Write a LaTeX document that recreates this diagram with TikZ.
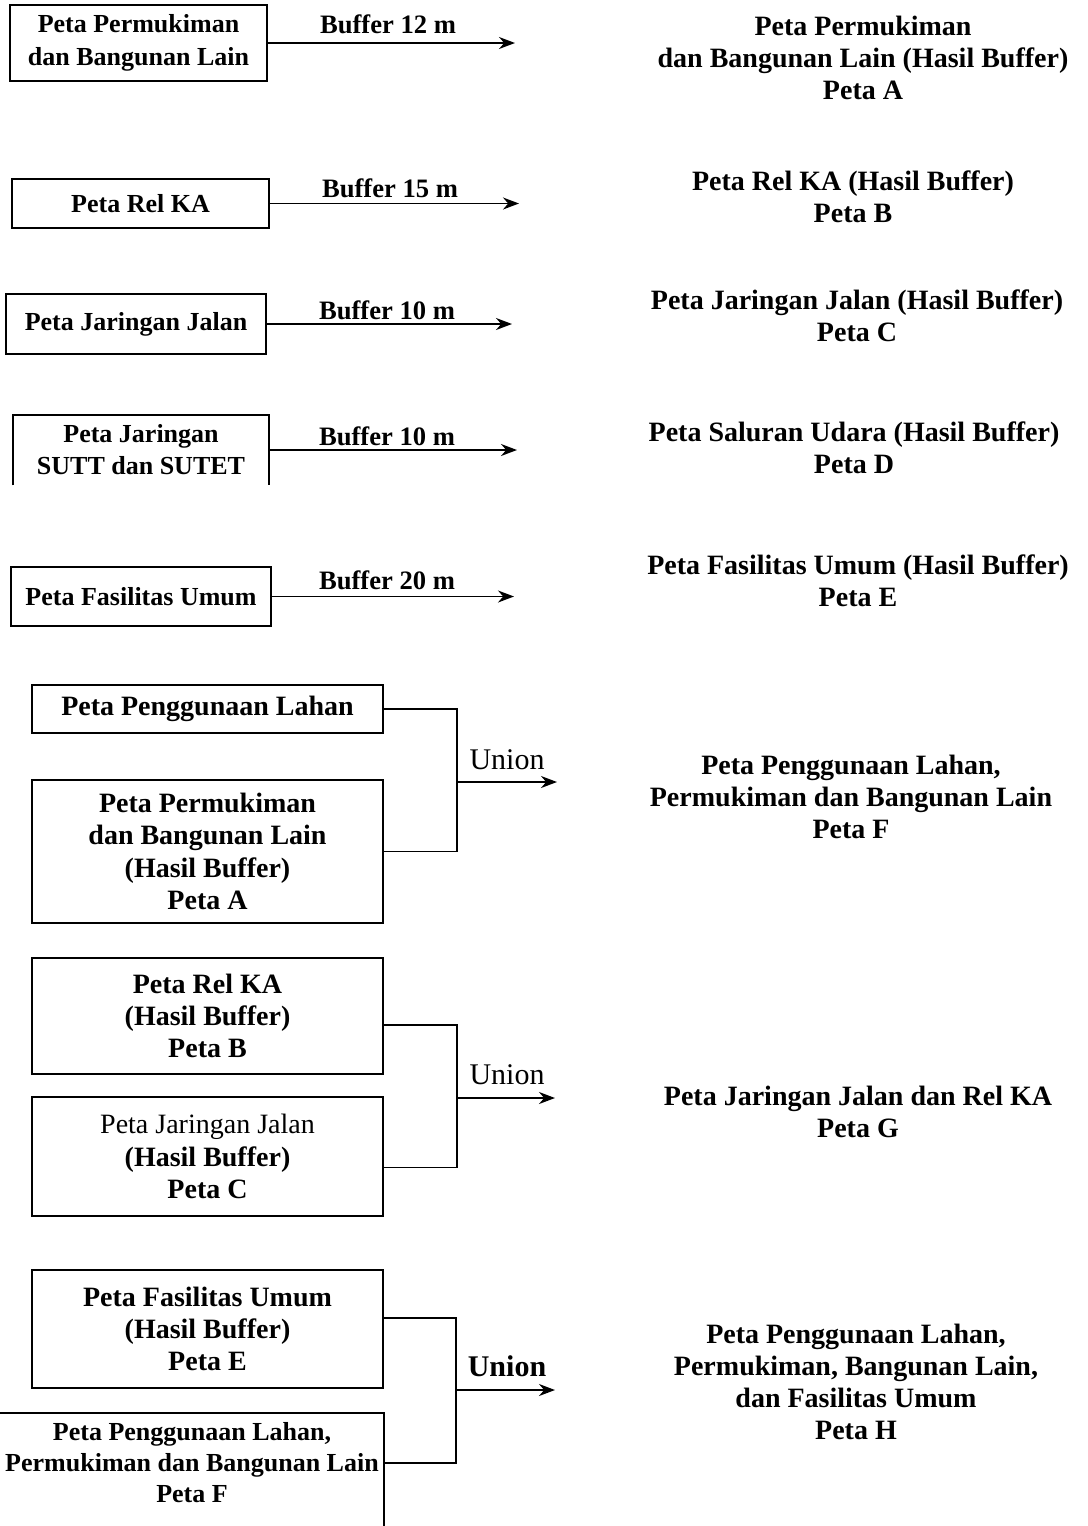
\documentclass[tikz,border=0pt]{standalone}
\usepackage{fontspec}
\setmainfont{Liberation Serif}
\usetikzlibrary{arrows.meta,calc}
\begin{document}
\begin{tikzpicture}[x=0.5pt,y=-0.5pt,
  bx/.style={draw,line width=1pt,inner sep=0pt,align=center,font=\fontsize{13}{16.5}\selectfont\bfseries},
  obx/.style={inner sep=0pt,align=center,font=\fontsize{13}{16}\selectfont\bfseries},
  ubx/.style={draw,line width=1pt,inner sep=0pt,align=center,minimum width=175.5pt,font=\fontsize{14}{16.2}\selectfont\bfseries},
  utx/.style={inner sep=0pt,align=center,font=\fontsize{13}{15.5}\selectfont\bfseries},
  res/.style={inner sep=0pt,align=center,font=\fontsize{14}{16}\selectfont\bfseries},
  lbl/.style={inner sep=0pt,font=\fontsize{13.3}{15}\selectfont\bfseries},
  ulbl/.style={inner sep=0pt,font=\fontsize{15}{16}\selectfont},
  ulblb/.style={inner sep=0pt,font=\fontsize{15}{16}\selectfont\bfseries},
  arr/.style={line width=0.9pt,-{Stealth[length=8pt,width=6pt]}},
  con/.style={line width=0.9pt}]
\useasboundingbox (0,0) rectangle (1087,1526);
\clip (0,0) rectangle (1087,1526);

% ---------- buffer rows ----------
\node[bx,minimum width=128.5pt,minimum height=38pt] (m1) at (138.5,43) {Peta Permukiman\\dan Bangunan Lain};
\coordinate (t1) at (515,0);
\draw[arr] (m1.east) -- (m1.east -| t1);
\node[lbl] (l1) at (388,24) {Buffer 12 m};
\node[res] (r1) at (863,58) {Peta Permukiman\\dan Bangunan Lain (Hasil Buffer)\\Peta A};

\node[bx,minimum width=128.5pt,minimum height=24.5pt] (m2) at (140.5,203.5) {Peta Rel KA};
\coordinate (t2) at (519,0);
\draw[arr] (m2.east) -- (m2.east -| t2);
\node[lbl] (l2) at (390,188) {Buffer 15 m};
\node[res] (r2) at (853,197) {Peta Rel KA (Hasil Buffer)\\Peta B};

\node[bx,minimum width=130pt,minimum height=30pt] (m3) at (136,324) {Peta Jaringan Jalan};
\coordinate (t3) at (512,0);
\draw[arr] (m3.east) -- (m3.east -| t3);
\node[lbl] (l3) at (387,310) {Buffer 10 m};
\node[res] (r3) at (857,316) {Peta Jaringan Jalan (Hasil Buffer)\\Peta C};

\node[obx,minimum width=128pt,minimum height=35pt] (m4) at (141,450) {Peta Jaringan\\SUTT dan SUTET};
\draw[line width=1pt] (m4.south west) -- (m4.north west) -- (m4.north east) -- (m4.south east);
\coordinate (t4) at (517,0);
\draw[arr] (m4.east) -- (m4.east -| t4);
\node[lbl] (l4) at (387,436) {Buffer 10 m};
\node[res] (r4) at (854,448) {Peta Saluran Udara (Hasil Buffer)\\Peta D};

\node[bx,minimum width=130pt,minimum height=29.5pt] (m5) at (141,596.5) {Peta Fasilitas Umum};
\coordinate (t5) at (514,0);
\draw[arr] (m5.east) -- (m5.east -| t5);
\node[lbl] (l5) at (387,580) {Buffer 20 m};
\node[res] (r5) at (858,581) {Peta Fasilitas Umum (Hasil Buffer)\\Peta E};

% ---------- union 1 ----------
\node[ubx,minimum height=24pt] (ua) at (207.5,709) {Peta Penggunaan Lahan};
\node[ubx,minimum height=71.5pt] (ub) at (207.5,851.5) {Peta Permukiman\\dan Bangunan Lain\\(Hasil Buffer)\\Peta A};
\coordinate (j1) at (457,782);
\coordinate (e1) at (557,782);
\draw[con] (ua.east) -| (j1) |- (ub.east);
\draw[arr] (j1) -- (e1);
\node[ulbl] (u1) at (507,760) {Union};
\node[res] (r6) at (851,797) {Peta Penggunaan Lahan,\\Permukiman dan Bangunan Lain\\Peta F};

% ---------- union 2 ----------
\node[ubx,minimum height=58pt] (uc) at (207.5,1016) {Peta Rel KA\\(Hasil Buffer)\\Peta B};
\node[ubx,minimum height=59.5pt] (ud) at (207.5,1156.5) {{\mdseries Peta Jaringan Jalan}\\(Hasil Buffer)\\Peta C};
\coordinate (j2) at (457,1098);
\coordinate (e2) at (555,1098);
\draw[con] ([yshift=-4.5pt]uc.east) -| (j2) |- ([yshift=-5.5pt]ud.east);
\draw[arr] (j2) -- (e2);
\node[ulbl] (u2) at (507,1075) {Union};
\node[res] (r7) at (858,1112) {Peta Jaringan Jalan dan Rel KA\\Peta G};

% ---------- union 3 ----------
\node[ubx,minimum height=59pt] (ue) at (207.5,1329) {Peta Fasilitas Umum\\(Hasil Buffer)\\Peta E};
\node[draw,line width=1pt,inner sep=0pt,minimum width=202pt,minimum height=78.5pt] (uf) at (182,1491.5) {};
\node[utx] (uft) at (192,1463) {Peta Penggunaan Lahan,\\Permukiman dan Bangunan Lain\\Peta F};
\coordinate (j3) at (456,1390);
\coordinate (e3) at (555,1390);
\draw[con] ([yshift=5.5pt]ue.east) -| (j3) |- (uf.east |- uft);
\draw[arr] (j3) -- (e3);
\node[ulblb] (u3) at (507,1366) {Union};
\node[res] (r8) at (856,1382) {Peta Penggunaan Lahan,\\Permukiman, Bangunan Lain,\\dan Fasilitas Umum\\Peta H};
\end{tikzpicture}
\end{document}
